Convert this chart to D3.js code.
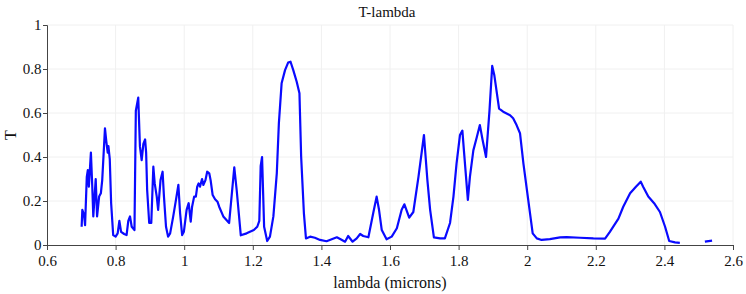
<!DOCTYPE html>
<html>
<head>
<meta charset="utf-8">
<script src="https://cdn.jsdelivr.net/npm/d3@7"></script>
<style>
  body { margin: 0; background: #fff; }
  svg text { font-family: "Liberation Serif", "Times New Roman", Times, serif !important; }
</style>
</head>
<body>
<div id="chart"></div>
<script>
// wavelength (microns)
const lambda = [
  0.701, 0.703, 0.708, 0.711, 0.716, 0.719, 0.722, 0.728, 0.732, 0.735,
  0.742, 0.746, 0.752, 0.757, 0.761, 0.769, 0.773, 0.777, 0.779, 0.783,
  0.787, 0.793, 0.800, 0.806, 0.811, 0.816, 0.825, 0.832, 0.837, 0.842,
  0.847, 0.855, 0.859, 0.866, 0.871, 0.876, 0.881, 0.886, 0.889, 0.892,
  0.898, 0.904, 0.910, 0.914, 0.920, 0.924, 0.931, 0.937, 0.941, 0.947,
  0.953, 0.959, 0.968, 0.976, 0.983, 0.988, 0.994, 0.999, 1.007, 1.013,
  1.019, 1.023, 1.029, 1.034, 1.038, 1.042, 1.046, 1.052, 1.056, 1.062,
  1.067, 1.073, 1.077, 1.083, 1.090, 1.097, 1.102, 1.114, 1.131, 1.146,
  1.153, 1.165, 1.182, 1.203, 1.213, 1.219, 1.223, 1.227, 1.233, 1.242,
  1.250, 1.260, 1.270, 1.276, 1.284, 1.294, 1.303, 1.310, 1.318, 1.328,
  1.336, 1.341, 1.349, 1.355, 1.367, 1.381, 1.396, 1.415, 1.430, 1.445,
  1.456, 1.469, 1.478, 1.491, 1.503, 1.513, 1.522, 1.537, 1.551, 1.561,
  1.568, 1.576, 1.590, 1.605, 1.620, 1.634, 1.642, 1.656, 1.668, 1.683,
  1.699, 1.709, 1.717, 1.728, 1.746, 1.760, 1.775, 1.785, 1.794, 1.804,
  1.811, 1.816, 1.827, 1.833, 1.843, 1.853, 1.862, 1.870, 1.880, 1.890,
  1.898, 1.904, 1.918, 1.930, 1.950, 1.959, 1.969, 1.979, 1.989, 2.003,
  2.016, 2.028, 2.042, 2.066, 2.096, 2.115, 2.154, 2.193, 2.227, 2.241,
  2.266, 2.280, 2.300, 2.317, 2.331, 2.338, 2.353, 2.370, 2.387, 2.402,
  2.414, 2.431, 2.445, 2.480, 2.518, 2.539
];

// transmission (null = gap in the trace)
const T = [
  0.083, 0.160, 0.136, 0.090, 0.310, 0.340, 0.265, 0.420, 0.265, 0.130,
  0.300, 0.130, 0.220, 0.235, 0.295, 0.530, 0.470, 0.420, 0.450, 0.390,
  0.190, 0.045, 0.038, 0.053, 0.110, 0.060, 0.050, 0.045, 0.110, 0.130,
  0.083, 0.068, 0.610, 0.670, 0.447, 0.386, 0.460, 0.480, 0.420, 0.250,
  0.100, 0.100, 0.356, 0.280, 0.220, 0.160, 0.295, 0.333, 0.220, 0.083,
  0.038, 0.053, 0.130, 0.205, 0.273, 0.145, 0.045, 0.060, 0.160, 0.190,
  0.106, 0.174, 0.220, 0.220, 0.265, 0.280, 0.265, 0.300, 0.273, 0.295,
  0.333, 0.326, 0.295, 0.227, 0.208, 0.197, 0.174, 0.130, 0.100, 0.353,
  0.250, 0.044, 0.053, 0.068, 0.083, 0.110, 0.360, 0.400, 0.083, 0.018,
  0.038, 0.130, 0.327, 0.553, 0.735, 0.795, 0.829, 0.833, 0.795, 0.742,
  0.690, 0.400, 0.144, 0.030, 0.038, 0.033, 0.023, 0.017, 0.026, 0.035,
  0.026, 0.015, 0.041, 0.015, 0.030, 0.050, 0.041, 0.035, 0.144, 0.220,
  0.160, 0.068, 0.026, 0.038, 0.076, 0.160, 0.185, 0.124, 0.150, 0.310,
  0.500, 0.295, 0.160, 0.035, 0.030, 0.030, 0.100, 0.220, 0.370, 0.500,
  0.520, 0.420, 0.205, 0.310, 0.430, 0.490, 0.545, 0.477, 0.400, 0.610,
  0.814, 0.773, 0.620, 0.606, 0.590, 0.576, 0.545, 0.508, 0.370, 0.205,
  0.053, 0.030, 0.023, 0.027, 0.035, 0.036, 0.033, 0.030, 0.029, 0.060,
  0.120, 0.174, 0.235, 0.265, 0.288, 0.265, 0.220, 0.190, 0.150, 0.083,
  0.018, 0.012, 0.010, null, 0.015, 0.020
];

const xTicks = [0.6, 0.8, 1, 1.2, 1.4, 1.6, 1.8, 2, 2.2, 2.4, 2.6];
const yTicks = [0, 0.2, 0.4, 0.6, 0.8, 1];

const width = 746, height = 294;
const margin = { top: 25, right: 13, bottom: 49, left: 47 };

const svg = d3.select("#chart").append("svg")
    .attr("width", width)
    .attr("height", height);

const x = d3.scaleLinear().domain([0.6, 2.6]).range([margin.left, width - margin.right]);
const y = d3.scaleLinear().domain([0, 1]).range([height - margin.bottom, margin.top]);

// grid
svg.append("g").selectAll("line.v")
    .data(xTicks.slice(1)).enter().append("line")
    .attr("x1", d => x(d)).attr("x2", d => x(d))
    .attr("y1", y(0)).attr("y2", y(1))
    .attr("stroke", "#f0f0f0");
svg.append("g").selectAll("line.h")
    .data(yTicks.slice(1)).enter().append("line")
    .attr("x1", x(0.6)).attr("x2", x(2.6))
    .attr("y1", d => y(d)).attr("y2", d => y(d))
    .attr("stroke", "#f0f0f0");

const points = lambda.map((l, i) => ({ l, t: T[i] }));

const line = d3.line()
    .defined(d => d.t !== null)
    .x(d => x(d.l))
    .y(d => y(d.t));

svg.append("path")
    .datum(points)
    .attr("fill", "none")
    .attr("stroke", "#0a0aff")
    .attr("stroke-width", 2.2)
    .attr("stroke-linejoin", "round")
    .attr("d", line);

const xAxis = svg.append("g")
    .attr("transform", `translate(0,${y(0)})`)
    .call(d3.axisBottom(x).tickValues(xTicks).tickFormat(d3.format("~g")).tickSize(5).tickSizeOuter(0));
const yAxis = svg.append("g")
    .attr("transform", `translate(${x(0.6)},0)`)
    .call(d3.axisLeft(y).tickValues(yTicks).tickFormat(d3.format("~g")).tickSize(4).tickSizeOuter(4));

[xAxis, yAxis].forEach(a => {
    a.attr("font-family", null).attr("font-size", 15);
    a.selectAll("path, line").attr("stroke", "#444");
    a.selectAll("text").attr("fill", "#111");
});
xAxis.selectAll("text").attr("dy", "0.85em");
yAxis.selectAll("text").attr("dx", "0.1em");

svg.append("text")
    .attr("x", width / 2 + 14).attr("y", 17)
    .attr("text-anchor", "middle")
    .attr("font-size", 15)
    .attr("fill", "#111")
    .text("T-lambda");

svg.append("text")
    .attr("x", (x(0.6) + x(2.6)) / 2).attr("y", 288)
    .attr("text-anchor", "middle")
    .attr("font-size", 16)
    .attr("fill", "#111")
    .text("lambda (microns)");

svg.append("text")
    .attr("transform", `translate(16,${(y(0) + y(1)) / 2}) rotate(-90)`)
    .attr("text-anchor", "middle")
    .attr("font-size", 16)
    .attr("fill", "#111")
    .text("T");
</script>
</body>
</html>
